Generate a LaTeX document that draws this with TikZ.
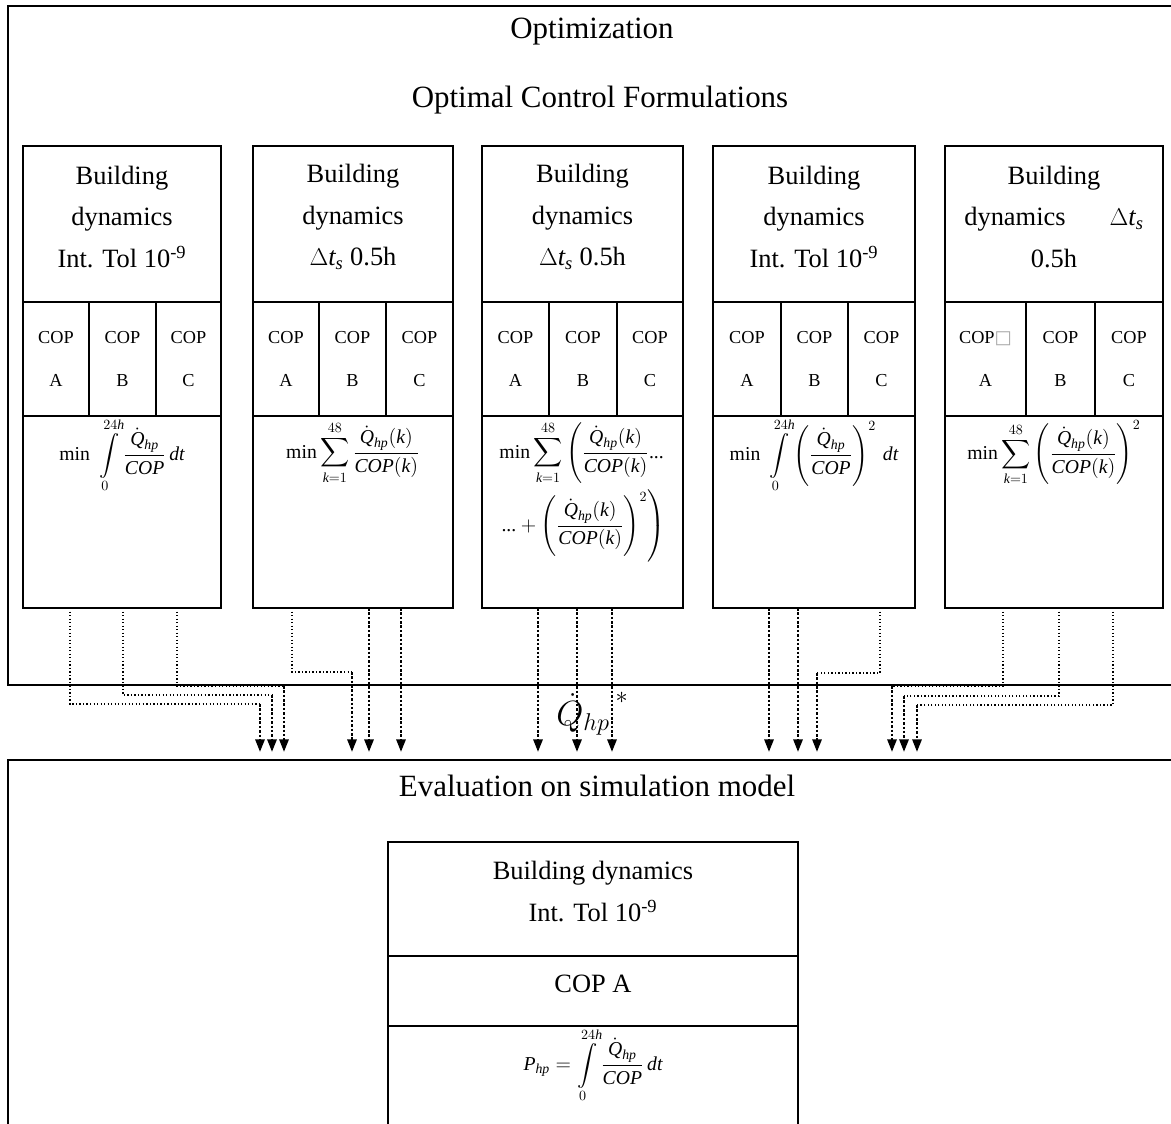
\documentclass[tikz,border=0pt]{standalone}
\usepackage{amsmath}
\usepackage{exscale}
\usepackage{fontspec}
\setmainfont{Liberation Serif}
\newfontfamily\symfont{DejaVu Sans}
\usetikzlibrary{positioning,calc,arrows.meta}
\def\upx{0.025cm} % one pixel of the layout
\newcommand{\vi}[1]{\textit{#1}} % italic letters in the formulas
\newcommand{\Qhp}{\dot{\vi{Q}}_{\vi{hp}}} % heat pump heat flow

\tikzset{
	cellbox/.style={draw, line width=1.4pt, rectangle, inner sep=0pt, outer sep=0pt, anchor=north west},
	headbox/.style={cellbox, minimum height=156*\upx},
	copbox/.style={cellbox, align=center, font=\fontsize{13pt}{30.6pt}\selectfont, minimum height=114*\upx},
	eqbox/.style={cellbox, minimum height=192*\upx},
	headtxt/.style={align=center, font=\fontsize{18.8pt}{29.5pt}\selectfont},
	eqtxt/.style={font=\fontsize{14pt}{17pt}\selectfont},
	titletxt/.style={font=\fontsize{22pt}{26pt}\selectfont},
	qtxt/.style={font=\fontsize{26pt}{30pt}\selectfont},
	thinflow/.style={line width=0.9pt, dash pattern=on 0.9pt off 1.6pt},
	thickflow/.style={line width=1.8pt, dash pattern=on 1.8pt off 1.3pt, -{Triangle[length=9pt,width=6.5pt]}},
}

\begin{document}
\begin{tikzpicture}[x=0.025cm, y=-0.025cm]
	\useasboundingbox (0,0) rectangle (1171,1124);
	%Frames
	%===========================================================
	\node[cellbox, minimum width=1200*\upx, minimum height=679*\upx] (opt) at (8,6) {}; %Optimization frame
	\node[cellbox, minimum width=1200*\upx, minimum height=400*\upx] (eval) at (8,760) {}; %Evaluation frame
	\node[titletxt] (optt) at (592,32) {Optimization};
	\node[titletxt] (oct) at (600,100) {Optimal Control Formulations};
	\node[titletxt] (evt) at (597,786) {Evaluation on simulation model};
	
	%Formulation 1
	\node[headbox, minimum width=198*\upx] (h1) at (23,146) {};
	\node[headtxt] (t1) at ($(h1.center)+(0,-7)$) {Building\\dynamics\\Int. Tol 10\textsuperscript{-9}};
	\node[copbox, minimum width=66*\upx] (c1a) at (23,302) {COP\\A};
	\node[copbox, minimum width=67*\upx] (c1b) at (89,302) {COP\\B};
	\node[copbox, minimum width=65*\upx] (c1c) at (156,302) {COP\\C};
	\node[eqbox, minimum width=198*\upx] (f1) at (23,416) {};
	\node[eqtxt] (e1) at ($(f1.north)+(0,39)$) {$\displaystyle\text{min}\;\int\limits_0^{24\vi{h}}\frac{\Qhp}{\vi{COP}}\,\vi{dt}$};
	
	%Formulation 2
	\node[headbox, minimum width=200*\upx] (h2) at (253,146) {};
	\node[headtxt] (t2) at ($(h2.center)+(0,-7)$) {Building\\dynamics\\$\Delta\vi{t}_{\vi{s}}$ 0.5h};
	\node[copbox, minimum width=66*\upx] (c2a) at (253,302) {COP\\A};
	\node[copbox, minimum width=67*\upx] (c2b) at (319,302) {COP\\B};
	\node[copbox, minimum width=67*\upx] (c2c) at (386,302) {COP\\C};
	\node[eqbox, minimum width=200*\upx] (f2) at (253,416) {};
	\node[eqtxt] (e2) at ($(f2.north)+(0,37)$) {$\displaystyle\text{min}\sum\limits_{\vi{k}=1}^{48}\frac{\Qhp(\vi{k})}{\vi{COP}(\vi{k})}$};
	
	%Formulation 3
	\node[headbox, minimum width=201*\upx] (h3) at (482,146) {};
	\node[headtxt] (t3) at ($(h3.center)+(0,-7)$) {Building\\dynamics\\$\Delta\vi{t}_{\vi{s}}$ 0.5h};
	\node[copbox, minimum width=67*\upx] (c3a) at (482,302) {COP\\A};
	\node[copbox, minimum width=68*\upx] (c3b) at (549,302) {COP\\B};
	\node[copbox, minimum width=66*\upx] (c3c) at (617,302) {COP\\C};
	\node[eqbox, minimum width=201*\upx] (f3) at (482,416) {};
	\node[eqtxt] (e3) at ($(f3.north)+(0,37)$) {$\displaystyle\text{min}\sum\limits_{\vi{k}=1}^{48}\left(\frac{\Qhp(\vi{k})}{\vi{COP}(\vi{k})}\text{...}\right.$};
	\node[eqtxt] (e3b) at ($(f3.north)+(0,110)$) {$\displaystyle\left.\text{...}+\left(\frac{\Qhp(\vi{k})}{\vi{COP}(\vi{k})}\right)^{2}\right)$};
	
	%Formulation 4
	\node[headbox, minimum width=202*\upx] (h4) at (713,146) {};
	\node[headtxt] (t4) at ($(h4.center)+(0,-7)$) {Building\\dynamics\\Int. Tol 10\textsuperscript{-9}};
	\node[copbox, minimum width=68*\upx] (c4a) at (713,302) {COP\\A};
	\node[copbox, minimum width=67*\upx] (c4b) at (781,302) {COP\\B};
	\node[copbox, minimum width=67*\upx] (c4c) at (848,302) {COP\\C};
	\node[eqbox, minimum width=202*\upx] (f4) at (713,416) {};
	\node[eqtxt] (e4) at ($(f4.north)+(0,39)$) {$\displaystyle\text{min}\;\int\limits_0^{24\vi{h}}\left(\frac{\Qhp}{\vi{COP}}\right)^{2}\,\vi{dt}$};
	
	%Formulation 5
	\node[headbox, minimum width=218*\upx] (h5) at (945,146) {};
	\node[headtxt] (t5) at ($(h5.center)+(0,-7)$) {Building\\dynamics\hspace{1.1cm}$\Delta\vi{t}_{\vi{s}}$\\0.5h};
	\node[copbox, minimum width=81*\upx] (c5a) at (945,302) {COP{\symfont\color{gray!70}□}\\A};
	\node[copbox, minimum width=69*\upx] (c5b) at (1026,302) {COP\\B};
	\node[copbox, minimum width=68*\upx] (c5c) at (1095,302) {COP\\C};
	\node[eqbox, minimum width=218*\upx] (f5) at (945,416) {};
	\node[eqtxt] (e5) at ($(f5.north)+(0,37)$) {$\displaystyle\text{min}\sum\limits_{\vi{k}=1}^{48}\left(\frac{\Qhp(\vi{k})}{\vi{COP}(\vi{k})}\right)^{2}$};
	
	%Simulation model
	%===========================================================
	\node[cellbox, minimum width=410*\upx, minimum height=114*\upx] (bh) at (388,842) {};
	\node[headtxt] (bt) at ($(bh.center)+(0,-7.5)$) {Building dynamics\\Int. Tol 10\textsuperscript{-9}};
	\node[cellbox, minimum width=410*\upx, minimum height=70*\upx] (bc) at (388,956) {};
	\node[headtxt] (bct) at ($(bc.center)+(0,-7)$) {COP A};
	\node[cellbox, minimum width=410*\upx, minimum height=150*\upx] (bf) at (388,1026) {};
	\node[eqtxt] (be) at ($(bf.north)+(0,39)$) {$\displaystyle\vi{P}_{\vi{hp}}=\int\limits_0^{24\vi{h}}\frac{\Qhp}{\vi{COP}}\,\vi{dt}$};
	
	%Optimal heat flow trajectories
	%===========================================================
	\coordinate (in1a) at (260,752); \coordinate (in1b) at (272,752); \coordinate (in1c) at (284,752);
	\coordinate (in2a) at (352,752); \coordinate (in2b) at (369,752); \coordinate (in2c) at (401,752);
	\coordinate (in3a) at (538,752); \coordinate (in3b) at (577,752); \coordinate (in3c) at (612,752);
	\coordinate (in4a) at (769,752); \coordinate (in4b) at (798,752); \coordinate (in4c) at (817,752);
	\coordinate (in5a) at (892,752); \coordinate (in5b) at (904,752); \coordinate (in5c) at (917,752);
	\coordinate (k1a) at (260,704); \coordinate (k1b) at (272,695); \coordinate (k1c) at (284,686); %bends
	\coordinate (k2a) at (352,672); \coordinate (k4c) at (817,673);
	\coordinate (k5a) at (892,686); \coordinate (k5b) at (904,696); \coordinate (k5c) at (917,705);
	
	\draw[thinflow] ($(f1.south west)+(47,0)$) |- (k1a);
	\draw[thinflow] ($(f1.south west)+(100,0)$) |- (k1b);
	\draw[thinflow] ($(f1.south west)+(154,0)$) |- (k1c);
	\draw[thickflow] (k1a) -- (in1a);
	\draw[thickflow] (k1b) -- (in1b);
	\draw[thickflow] (k1c) -- (in1c);
	
	\draw[thinflow] ($(f2.south west)+(39,0)$) |- (k2a);
	\draw[thickflow] (k2a) -- (in2a);
	\draw[thickflow] (f2.south -| in2b) -- (in2b);
	\draw[thickflow] (f2.south -| in2c) -- (in2c);
	
	\draw[thickflow] (f3.south -| in3a) -- (in3a);
	\draw[thickflow] (f3.south -| in3b) -- (in3b);
	\draw[thickflow] (f3.south -| in3c) -- (in3c);
	
	\draw[thickflow] (f4.south -| in4a) -- (in4a);
	\draw[thickflow] (f4.south -| in4b) -- (in4b);
	\draw[thinflow] ($(f4.south west)+(167,0)$) |- (k4c);
	\draw[thickflow] (k4c) -- (in4c);
	
	\draw[thinflow] ($(f5.south west)+(58,0)$) |- (k5a);
	\draw[thinflow] ($(f5.south west)+(114,0)$) |- (k5b);
	\draw[thinflow] ($(f5.south west)+(168,0)$) |- (k5c);
	\draw[thickflow] (k5a) -- (in5a);
	\draw[thickflow] (k5b) -- (in5b);
	\draw[thickflow] (k5c) -- (in5c);
	
	\node[qtxt] (qhp) at (592,714) {$\dot{Q}_{hp}\,\raisebox{0.6em}{$\scriptstyle *$}$}; %Optimal heat flow label
\end{tikzpicture}
\end{document}
